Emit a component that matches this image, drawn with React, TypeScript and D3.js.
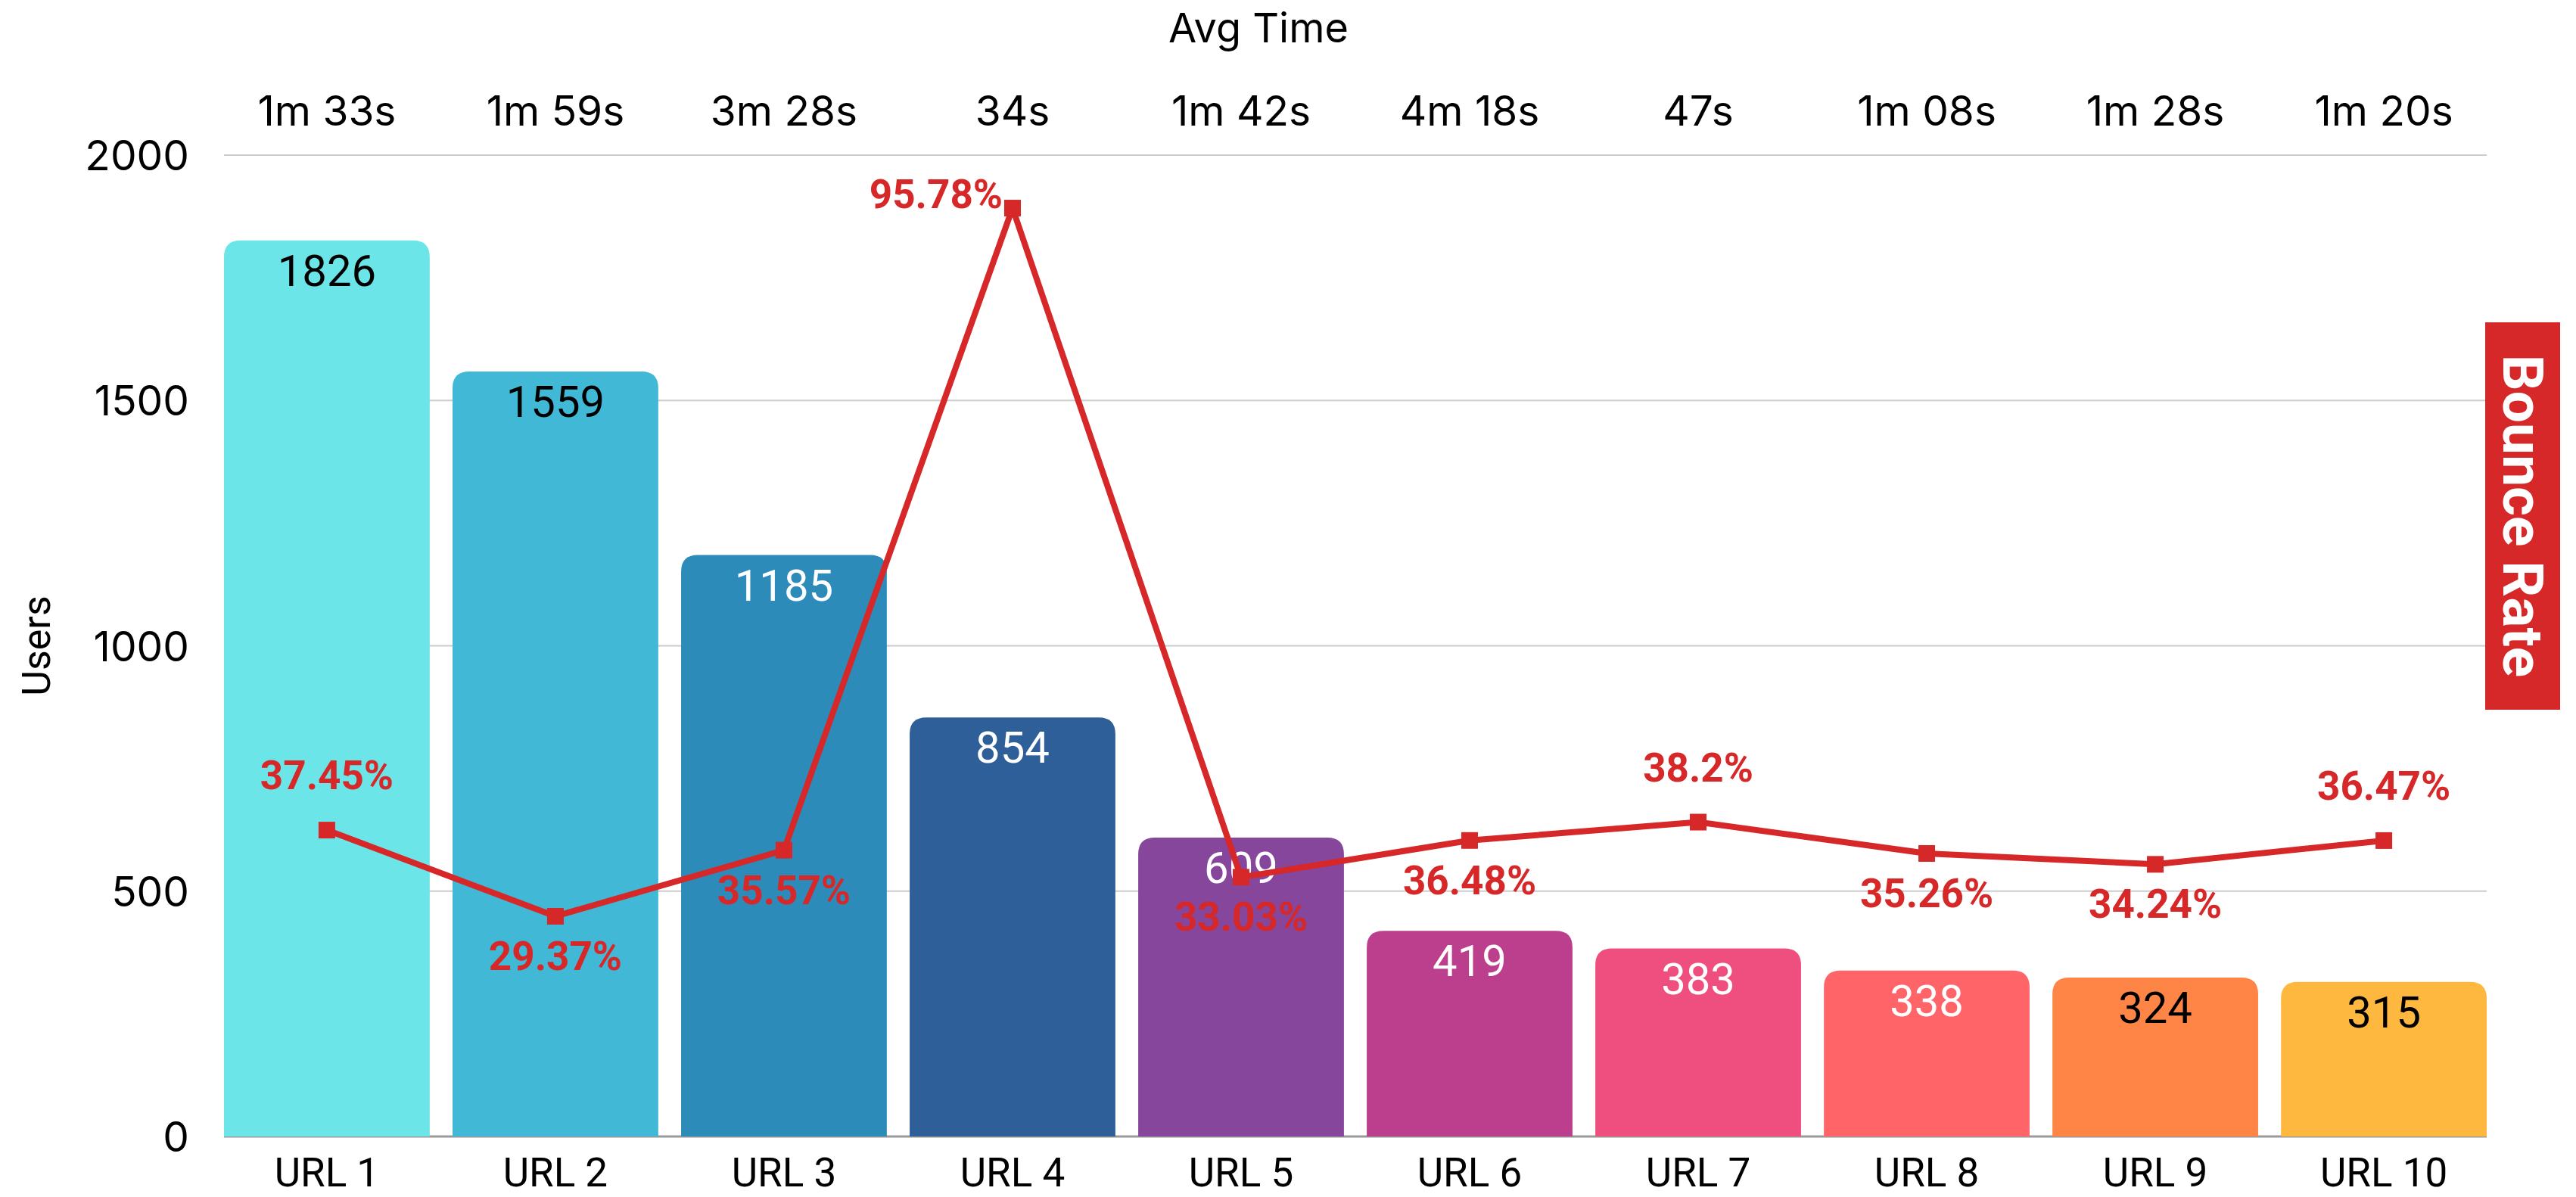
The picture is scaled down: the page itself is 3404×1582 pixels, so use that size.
import * as d3 from "d3";

const categories = ["URL 1", "URL 2", "URL 3", "URL 4", "URL 5", "URL 6", "URL 7", "URL 8", "URL 9", "URL 10"];
const users = [1826, 1559, 1185, 854, 609, 419, 383, 338, 324, 315];
const bounceRate = [37.45, 29.37, 35.57, 95.78, 33.03, 36.48, 38.2, 35.26, 34.24, 36.47];
const avgTime = ["1m 33s", "1m 59s", "3m 28s", "34s", "1m 42s", "4m 18s", "47s", "1m 08s", "1m 28s", "1m 20s"];
const yTicks = [0, 500, 1000, 1500, 2000];

const barColors = ["#6ce5e8", "#41b8d5", "#2d8bba", "#2f5f98", "#86469c", "#bb3f8c", "#ee4f7e", "#ff6568", "#ff8547", "#ffb83f"];
const valueColors = ["#000", "#000", "#fff", "#fff", "#fff", "#fff", "#fff", "#fff", "#000", "#000"];
// where each bounce-rate label sits relative to its marker
const rateSide = ["top", "bottom", "bottom", "left", "bottom", "bottom", "top", "bottom", "bottom", "top"];

const W = 3404;
const H = 1582;
const margin = { top: 205, right: 118, bottom: 80, left: 296 };
const RED = "#d62828";
const FONT = "Roboto, 'DejaVu Sans', sans-serif";
const WIDE = "Inter, Roboto, sans-serif";

// bar with rounded top corners only
function topRoundedRect(x: number, y: number, w: number, h: number, r: number) {
  const rr = Math.min(r, h, w / 2);
  return `M${x},${y + h}V${y + rr}Q${x},${y} ${x + rr},${y}H${x + w - rr}Q${x + w},${y} ${x + w},${y + rr}V${y + h}Z`;
}

export default function App() {
  const x0 = margin.left;
  const x1 = W - margin.right;
  const y0 = H - margin.bottom;
  const y1 = margin.top;

  const x = d3.scaleBand<string>().domain(categories).range([x0, x1]).paddingInner(0.1).paddingOuter(0);
  const y = d3.scaleLinear().domain([0, 2000]).range([y0, y1]);
  // hidden secondary axis for the bounce rate line
  const yRate = d3.scaleLinear().domain([8.72, 100.75]).range([y0, y1]);

  const bw = x.bandwidth();
  const cx = (c: string) => (x(c) ?? 0) + bw / 2;

  const line = d3
    .line<number>()
    .x((_, i) => cx(categories[i]))
    .y((d) => yRate(d));

  const mk = 22;

  return (
    <svg width={W} height={H} style={{ position: "absolute", left: 0, top: 0, background: "#fff" }} fontFamily={FONT}>
      {/* gridlines */}
      {yTicks.map((t) => (
        <g key={t}>
          <line x1={x0} x2={x1} y1={y(t)} y2={y(t)} stroke={t === 0 ? "#9a9a9a" : "#cccccc"} strokeWidth={t === 0 ? 3 : 2} />
          <text x={250} y={y(t)} textAnchor="end" dominantBaseline="central" fontSize={55} fontFamily={WIDE} fill="#000">
            {t}
          </text>
        </g>
      ))}

      {/* bars */}
      {categories.map((c, i) => (
        <g key={c}>
          <path d={topRoundedRect(x(c) ?? 0, y(users[i]), bw, y0 - y(users[i]), 22)} fill={barColors[i]} />
          <text x={cx(c)} y={y(users[i]) + 60} textAnchor="middle" fontSize={58} fill={valueColors[i]}>
            {users[i]}
          </text>
          <text x={cx(c)} y={y0 + 66} textAnchor="middle" fontSize={53} fill="#000">
            {c}
          </text>
          <text x={cx(c)} y={146} textAnchor="middle" dominantBaseline="central" fontSize={55} fontFamily={WIDE} fill="#000">
            {avgTime[i]}
          </text>
        </g>
      ))}

      {/* bounce rate line */}
      <path d={line(bounceRate) ?? ""} fill="none" stroke={RED} strokeWidth={8} strokeLinejoin="round" />
      {bounceRate.map((v, i) => {
        const px = cx(categories[i]);
        const py = yRate(v);
        const side = rateSide[i];
        let tx = px;
        let ty = py;
        let anchor = "middle";
        if (side === "top") ty = py - 54;
        else if (side === "bottom") ty = py + 71;
        else {
          tx = px - mk / 2 - 2;
          anchor = "end";
        }
        return (
          <g key={i}>
            <rect x={px - mk / 2} y={py - mk / 2} width={mk} height={mk} fill={RED} />
            <text x={tx} y={ty} textAnchor={anchor} fontSize={53} fontWeight="bold" fill={RED}>
              {`${v}%`}
            </text>
          </g>
        );
      })}

      {/* titles */}
      <text x={1663} y={36} textAnchor="middle" dominantBaseline="central" fontSize={54} fontFamily={WIDE} fill="#000">
        Avg Time
      </text>
      <text
        transform={`translate(48,${(y0 + y1) / 2}) rotate(-90)`}
        textAnchor="middle"
        dominantBaseline="central"
        fontSize={52}
        fill="#000"
      >
        Users
      </text>

      {/* bounce rate tag */}
      <rect x={3284} y={426} width={99} height={512} fill={RED} />
      <text
        transform={`translate(${3284 + 99 / 2},${(426 + 938) / 2}) rotate(90)`}
        textAnchor="middle"
        dominantBaseline="central"
        fontSize={75}
        fontWeight="bold"
        fill="#fff"
      >
        Bounce Rate
      </text>
    </svg>
  );
}
